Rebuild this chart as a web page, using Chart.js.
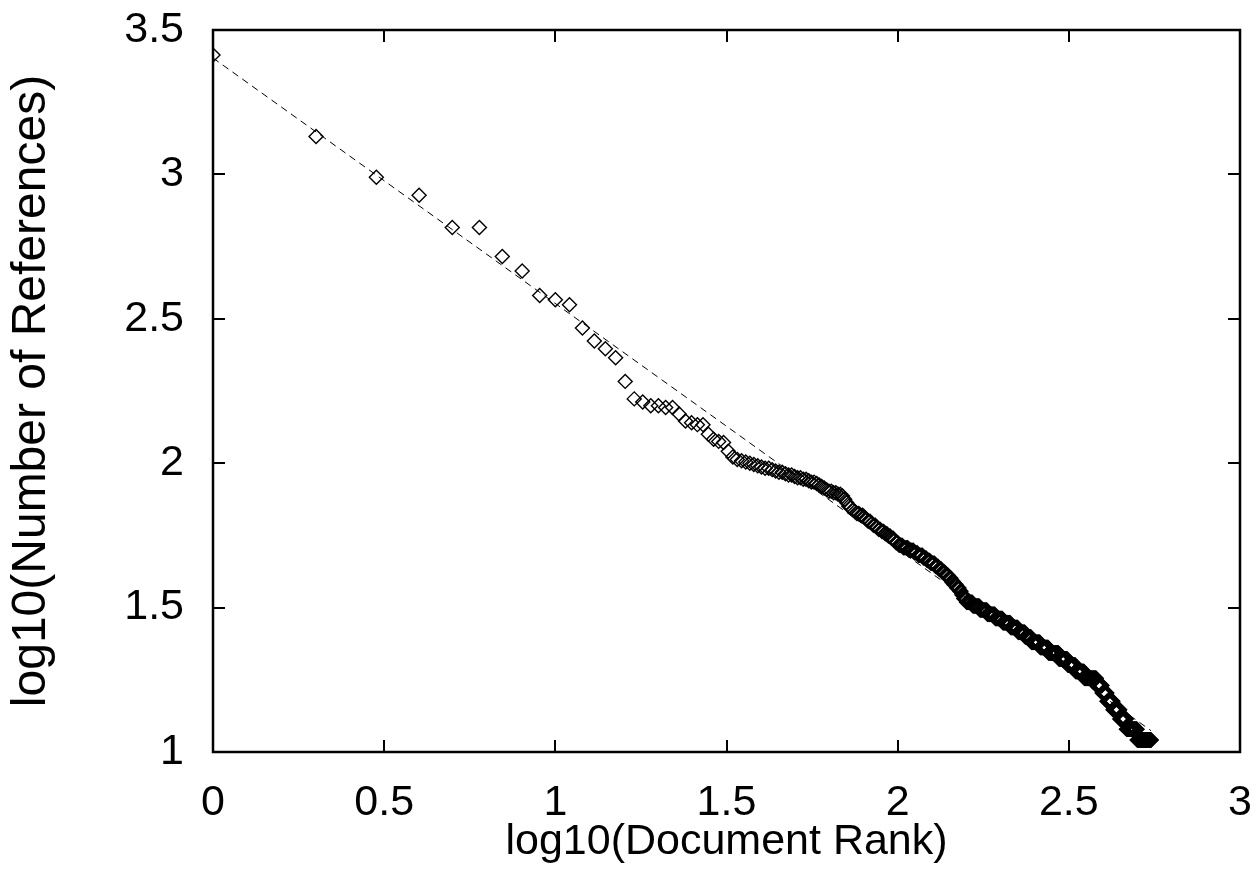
<!DOCTYPE html>
<html>
<head>
<meta charset="utf-8">
<script src="https://cdn.jsdelivr.net/npm/chart.js@4.4.1/dist/chart.umd.min.js"></script>
<style>
  html, body { margin: 0; padding: 0; background: #fff; }
  #wrap { width: 1256px; height: 873px; position: relative; }
</style>
</head>
<body>
<div id="wrap"><canvas id="rankChart"></canvas></div>
<script>
// number of references, and how many documents have that count (in rank order)
const refCounts = [
  2590, 1352, 977, 847, 655, 520, 463, 381, 368, 354, 294, 265, 249, 232, 192, 167, 163, 158, 156, 148,
  140, 138, 136, 126, 121, 119, 118, 110, 105, 103, 102, 101, 100,
  99, 98, 97, 96, 95, 94, 93, 92, 91, 90, 89, 88, 87, 86, 85, 84, 83, 82, 81, 80, 79, 78, 77,
  75, 73, 71, 70, 69, 68, 67, 66, 65, 64, 63, 62, 61, 60, 59, 58, 57, 56, 55, 54, 53,
  52, 51, 50, 49, 48, 47, 46, 45, 44, 43, 42, 41, 40, 39, 38, 37, 36, 35, 34, 33, 32, 31, 30,
  29, 28, 27, 26, 25, 24, 23, 22, 21, 20, 19, 18, 17, 16, 15, 14, 13, 12, 11
];
const docsWithCount = [
  1, 1, 1, 1, 2, 1, 1, 1, 1, 1, 1, 1, 1, 1, 1, 1, 1, 2, 2, 1,
  1, 1, 2, 1, 1, 1, 1, 1, 1, 1, 1, 1, 1,
  1, 1, 1, 2, 1, 1, 2, 1, 2, 1, 2, 2, 1, 2, 1, 1, 1, 1, 1, 2, 2, 2, 1,
  1, 1, 1, 1, 1, 1, 2, 2, 1, 1, 2, 1, 2, 1, 2, 2, 2, 2, 2, 1, 2,
  3, 4, 4, 3, 4, 3, 3, 4, 3, 3, 3, 3, 3, 2, 3, 3, 2, 2, 3, 7, 8, 9, 10,
  10, 11, 11, 11, 10, 15, 15, 20, 18, 17, 20, 30, 15, 13, 17, 20, 20, 35, 50
];

// dashed fitted line, in log10 units
const fitX = [0, 2.74];
const fitY = [3.403, 1.074];

const xTicks = ['0', '0.5', '1', '1.5', '2', '2.5', '3'];
const yTicks = ['1', '1.5', '2', '2.5', '3', '3.5'];

const points = [];
let rank = 1;
refCounts.forEach((c, i) => {
  for (let k = 0; k < docsWithCount[i]; k++) {
    points.push({ x: Math.log10(rank), y: Math.log10(c) });
    rank++;
  }
});
const fitLine = fitX.map((x, i) => ({ x, y: fitY[i] }));

const FONT = "'Liberation Sans', Arial, Helvetica, sans-serif";

// gnuplot style frame with ticks pointing inwards
const frameTicks = {
  id: 'frameTicks',
  afterDraw(chart) {
    const { ctx, chartArea: a, scales } = chart;
    const len = 12;
    ctx.save();
    ctx.strokeStyle = '#000';
    ctx.lineWidth = 2;
    ctx.beginPath();
    xTicks.forEach(t => {
      const px = Math.round(scales.x.getPixelForValue(parseFloat(t)));
      ctx.moveTo(px, a.bottom); ctx.lineTo(px, a.bottom - len);
      ctx.moveTo(px, a.top); ctx.lineTo(px, a.top + len);
    });
    yTicks.forEach(t => {
      const py = Math.round(scales.y.getPixelForValue(parseFloat(t)));
      ctx.moveTo(a.left, py); ctx.lineTo(a.left + len, py);
      ctx.moveTo(a.right, py); ctx.lineTo(a.right - len, py);
    });
    ctx.stroke();
    ctx.lineWidth = 2.5;
    ctx.strokeRect(a.left, a.top, a.right - a.left, a.bottom - a.top);
    ctx.restore();
  }
};

new Chart(document.getElementById('rankChart'), {
  type: 'scatter',
  data: {
    datasets: [
      {
        label: 'documents',
        data: points,
        pointStyle: 'rectRot',
        pointRadius: 7,
        pointBorderWidth: 1.4,
        borderColor: '#000',
        backgroundColor: 'rgba(0,0,0,0)'
      },
      {
        label: 'fit',
        type: 'line',
        data: fitLine,
        borderColor: '#000',
        borderWidth: 1,
        borderDash: [7, 5],
        pointRadius: 0,
        fill: false
      }
    ]
  },
  options: {
    responsive: true, maintainAspectRatio: false, animation: false,
    layout: { padding: { top: 30, right: 16, left: 0, bottom: 0 } },
    plugins: { legend: { display: false }, tooltip: { enabled: false } },
    scales: {
      x: {
        type: 'linear', min: 0, max: 3,
        afterFit: s => { s.height = 121; s.paddingLeft = 0; s.paddingRight = 0; },
        grid: { display: false, drawTicks: false },
        border: { display: false },
        ticks: {
          stepSize: 0.5, padding: 25, color: '#000',
          font: { family: FONT, size: 43 },
          callback: v => xTicks.includes(String(v)) ? String(v) : ''
        },
        title: {
          display: true, text: 'log10(Document Rank)', color: '#000',
          font: { family: FONT, size: 43, lineHeight: 1 },
          padding: { top: 0, bottom: 9 }
        }
      },
      y: {
        type: 'linear', min: 1, max: 3.5,
        afterFit: s => { s.width = 213; s.paddingTop = 0; s.paddingBottom = 0; },
        grid: { display: false, drawTicks: false },
        border: { display: false },
        ticks: {
          stepSize: 0.5, padding: 29, color: '#000',
          font: { family: FONT, size: 43 },
          callback: v => yTicks.includes(String(v)) ? String(v) : ''
        },
        title: {
          display: true, text: 'log10(Number of References)', color: '#000',
          font: { family: FONT, size: 48, lineHeight: 1 },
          padding: { top: 8, bottom: 0 }
        }
      }
    }
  },
  plugins: [frameTicks]
});
</script>
</body>
</html>
